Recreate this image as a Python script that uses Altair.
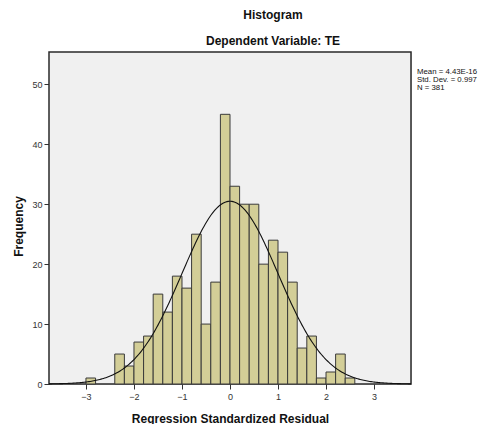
import altair as alt
import pandas as pd
import numpy as np

# Histogram bins (left edge) and frequencies
bin_start = [-3.0, -2.8, -2.6, -2.4, -2.2, -2.0, -1.8, -1.6, -1.4, -1.2, -1.0, -0.8, -0.6, -0.4,
             -0.2, 0.0, 0.2, 0.4, 0.6, 0.8, 1.0, 1.2, 1.4, 1.6, 1.8, 2.0, 2.2, 2.4]
frequency = [1, 0, 0, 5, 3, 7, 8, 15, 12, 18, 16, 25, 10, 17,
             45, 33, 30, 30, 20, 24, 22, 17, 6, 8, 1, 2, 5, 1]
bin_width = 0.2

# Summary statistics shown in the chart
stat_lines = ["Mean = 4.43E-16", "Std. Dev. = 0.997", "N = 381"]
mean_val = 4.43e-16
sd_val = 0.997
n_val = 381

title_lines = ["Histogram", "Dependent Variable: TE"]
x_title = "Regression Standardized Residual"
y_title = "Frequency"

x_ticks = [-3, -2, -1, 0, 1, 2, 3]
y_ticks = [0, 10, 20, 30, 40, 50]
x_dom = [-3.77, 3.77]
y_dom = [0, 55.4]

bars = pd.DataFrame({"start": bin_start, "freq": frequency})
bars["end"] = bars["start"] + bin_width
bars = bars[bars["freq"] > 0]

# Fitted normal curve from the stated mean / SD / N
xs = np.linspace(x_dom[0], x_dom[1], 300)
ys = n_val * bin_width * np.exp(-0.5 * ((xs - mean_val) / sd_val) ** 2) / (sd_val * np.sqrt(2 * np.pi))
curve = pd.DataFrame({"x": xs, "y": ys})

FONT = "Liberation Sans"

xscale = alt.Scale(domain=x_dom, nice=False, zero=False)
yscale = alt.Scale(domain=y_dom, nice=False)

xaxis = alt.Axis(values=x_ticks, grid=False, domain=False, tickSize=5, tickColor="#333",
                 labelFontSize=9, labelColor="#333", labelFont=FONT, labelPadding=3,
                 title=x_title, titleFont=FONT, titleFontSize=12,
                 titleFontWeight="bold", titleColor="#111", titleY=34, titleBaseline="middle")
yaxis = alt.Axis(values=y_ticks, grid=False, domain=False, tickSize=5, tickColor="#333",
                 labelFontSize=9, labelColor="#333", labelFont=FONT, labelPadding=2,
                 title=y_title, titleFont=FONT, titleFontSize=12, titleFontWeight="bold",
                 titleColor="#111", titleAngle=270, titleX=-31, titleY=174,
                 titleBaseline="middle", titleAlign="center")

one = pd.DataFrame({"k": [0]})

# plot frame, drawn through the shared scales at the domain limits (under the bars)
frame = alt.Chart(one).mark_rect(fill="#F0F0F0", stroke="#2a2a2a", strokeWidth=1.5).encode(
    x=alt.datum(x_dom[0], scale=xscale), x2=alt.datum(x_dom[1]),
    y=alt.datum(y_dom[0], scale=yscale), y2=alt.datum(y_dom[1]),
)

hist = alt.Chart(bars).mark_rect(fill="#D3CE97", stroke="#3a3a3a", strokeWidth=1).encode(
    x=alt.X("start:Q", scale=xscale, axis=xaxis),
    x2="end:Q",
    y=alt.Y("freq:Q", scale=yscale, axis=yaxis),
    y2=alt.datum(0),
)

line = alt.Chart(curve).mark_line(color="#111", strokeWidth=1.1).encode(
    x=alt.X("x:Q", scale=xscale),
    y=alt.Y("y:Q", scale=yscale),
)

stats = alt.Chart(one).mark_text(align="left", baseline="top", fontSize=7.8, lineHeight=8,
                                 font=FONT, color="#111", text=stat_lines).encode(
    x=alt.value(368),
    y=alt.value(16),
)

title1 = alt.Chart(one).mark_text(align="center", baseline="middle", fontSize=12,
                                  fontWeight="bold", font=FONT, color="#111",
                                  text=title_lines[0]).encode(x=alt.value(224), y=alt.value(-37))
title2 = alt.Chart(one).mark_text(align="center", baseline="middle", fontSize=12,
                                  fontWeight="bold", font=FONT, color="#111",
                                  text=title_lines[1]).encode(x=alt.value(224), y=alt.value(-11))

chart = alt.layer(frame, hist, line, stats, title1, title2).properties(
    width=362, height=332,
    autosize=alt.AutoSizeParams(type="none"),
    padding={"left": 41, "top": 44, "right": 73, "bottom": 40},
).configure_view(fill="#F0F0F0", stroke="#2a2a2a", strokeWidth=1
).configure(background="white")

chart.save("out.html", embed_options={"renderer": "svg", "actions": False})
